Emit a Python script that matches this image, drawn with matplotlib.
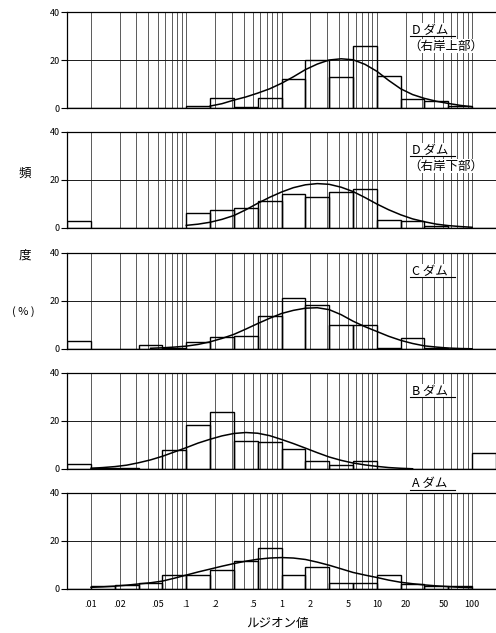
import numpy as np
import matplotlib
matplotlib.use("Agg")
import matplotlib.pyplot as plt
from matplotlib.ticker import NullLocator, FixedLocator

plt.rcParams['font.family'] = ['Noto Sans CJK JP', 'DejaVu Sans']

# quarter-decade class boundaries of the Lugeon value
edges = [0.0056, 0.01, 0.0178, 0.0316, 0.0562, 0.1, 0.178, 0.316, 0.562, 1.0,
         1.78, 3.16, 5.62, 10.0, 17.8, 31.6, 56.2, 100.0, 178.0]

# frequency (%) per class
freq_d_upper = [0, 0, 0, 0, 0, 0.7, 4, 0.5, 4, 12, 20, 13, 26, 13.5, 3.7, 3, 0.8, 0]
freq_d_lower = [3, 0, 0, 0, 0, 6.2, 7.6, 8.3, 11.3, 14.2, 13.1, 15.2, 16.3, 3.4, 2.8, 1, 0, 0]
freq_c = [3.2, 0, 0, 1.7, 0.5, 2.8, 4.9, 5.3, 13.6, 21.4, 18.3, 9.9, 9.9, 0.5, 4.5, 0.4, 0.2, 0]
freq_b = [2.0, 0.3, 0.3, 0, 8, 18.5, 23.8, 11.5, 11.3, 8.4, 3.5, 1.7, 3.5, 0, 0, 0, 0, 6.6]
freq_a = [0, 1.1, 1.7, 2.3, 5.9, 5.8, 8, 11.7, 17, 5.8, 9.2, 2.3, 2.3, 5.8, 2.1, 1.1, 1.4, 0]

curve_x = [0.01, 0.0133, 0.0178, 0.0237, 0.0316, 0.0422, 0.0562, 0.075,
           0.1, 0.133, 0.178, 0.237, 0.316, 0.422, 0.562, 0.75,
           1.0, 1.33, 1.78, 2.37, 3.16, 4.22, 5.62, 7.5,
           10, 13.3, 17.8, 23.7, 31.6, 42.2, 56.2, 75, 100]
curve_d_upper = [None] * 10 + [0.8, 1.8, 3.3, 4.6, 6.2, 8.0, 10.3, 13, 16, 18.3, 20, 20.5,
                               20.1, 18.2, 15.3, 11.5, 8, 5.6, 4, 2.8, 1.9, 1.1, 0.5]
curve_d_lower = [None] * 8 + [1.1, 1.6, 2.4, 3.6, 5.2, 7.6, 10.3, 12.8, 15, 16.8, 18, 18.5,
                              18.2, 17, 15.2, 12.7, 10, 7.6, 5.5, 3.8, 2.6, 1.6, 1.0, 0.6, 0.3]
curve_c = [None] * 5 + [0.3, 0.5, 0.8, 1.2, 1.9, 3.0, 4.4, 6.1, 8.3, 10.6, 12.8, 14.8, 16.1, 17,
                        17.2, 16.4, 14.3, 11.6, 9.3, 7.3, 5.3, 3.6, 2.3, 1.3, 0.8, 0.4, 0.2, 0.1]
curve_b = [0.3, 0.6, 1.0, 1.6, 2.6, 3.8, 5.3, 7.1, 8.9, 10.8, 12.4, 13.8, 14.8, 15.2, 14.9, 13.9,
           12.3, 10.6, 8.7, 6.8, 5.0, 3.6, 2.5, 1.7, 1.1, 0.6, 0.3, 0.1] + [None] * 5
curve_a = [0.7, 0.9, 1.2, 1.6, 2.1, 2.6, 3.3, 4.5, 5.8, 7.1, 8.3, 9.5, 10.6, 11.6, 12.4, 12.9,
           13.1, 12.9, 12.3, 11.2, 9.9, 8.4, 6.9, 5.8, 4.8, 3.7, 2.8, 2.2, 1.7, 1.3, 1.0, 0.7, 0.5]

names = ['D ダム', 'D ダム', 'C ダム', 'B ダム', 'A ダム']
subnames = ['（右岸上部）', '（右岸下部）', None, None, None]
freqs = [freq_d_upper, freq_d_lower, freq_c, freq_b, freq_a]
curves = [curve_d_upper, curve_d_lower, curve_c, curve_b, curve_a]

xticks = [0.01, 0.02, 0.05, 0.1, 0.2, 0.5, 1, 2, 5, 10, 20, 50, 100]
xticklabels = ['.01', '.02', '.05', '.1', '.2', '.5', '1', '2', '5', '10', '20', '50', '100']

W, H = 496, 633
fig = plt.figure(figsize=(W / 100, H / 100), dpi=100)

panel_top = [12, 132, 253, 373, 493]
panel_h = 96
left = 67

grid_x = [m * 10.0 ** k for k in range(-2, 2) for m in range(1, 10)] + [100]
lefts = np.array(edges[:-1])
widths = np.array(edges[1:]) - lefts

for i in range(5):
    ax = fig.add_axes([left / W, 1 - (panel_top[i] + panel_h) / H, (W - left) / W, panel_h / H])
    ax.set_xscale('log')
    ax.set_xlim(edges[0], edges[-1])
    ax.set_ylim(0, 40)

    for gx in grid_x:
        ax.axvline(gx, color='0.25', lw=0.6, zorder=1)
    ax.axhline(20, color='0.1', lw=0.7, zorder=1)

    ax.bar(lefts, freqs[i], width=widths, align='edge', fill=False,
           edgecolor='black', linewidth=1.0, zorder=3)
    ax.plot(curve_x, np.array(curves[i], dtype=float), color='black', lw=1.1, zorder=4)

    for s in ['left', 'top', 'bottom']:
        ax.spines[s].set_linewidth(0.9)
    ax.spines['right'].set_visible(False)
    ax.set_yticks([0, 20, 40])
    ax.tick_params(axis='y', length=4, width=0.8, pad=1, labelsize=6.5)
    ax.xaxis.set_minor_locator(NullLocator())
    ax.xaxis.set_major_locator(FixedLocator(xticks))
    ax.tick_params(axis='x', length=0, pad=8, labelsize=6.5)
    if i < 4:
        ax.set_xticklabels([])
        ty, uy = 0.81, 0.745
    else:
        ax.set_xticklabels(xticklabels)
        ty, uy = 1.10, 1.035

    ax.text(0.805, ty, names[i], transform=ax.transAxes, fontsize=9,
            ha='left', va='center', zorder=6,
            bbox=dict(facecolor='white', edgecolor='none', pad=0.5))
    if subnames[i]:
        ax.text(0.795, 0.645, subnames[i], transform=ax.transAxes, fontsize=9,
                ha='left', va='center', zorder=6,
                bbox=dict(facecolor='white', edgecolor='none', pad=0.3))
    ax.plot([0.80, 0.905], [uy, uy], transform=ax.transAxes, color='black',
            lw=0.8, clip_on=False, zorder=8)

fig.text(25 / W, 1 - 173 / H, '頻', fontsize=9, ha='center', va='center')
fig.text(25 / W, 1 - 255 / H, '度', fontsize=9, ha='center', va='center')
fig.text(23 / W, 1 - 312 / H, '( % )', fontsize=8, ha='center', va='center')
fig.text(277 / W, 1 - 623 / H, 'ルジオン値', fontsize=9, ha='center', va='center')

fig.savefig('out.png', dpi=100)
